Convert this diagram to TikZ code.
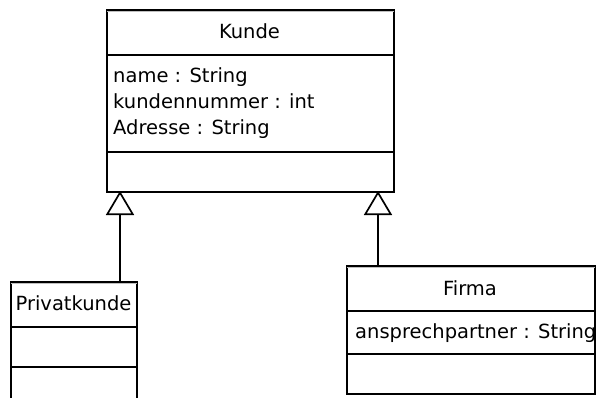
\documentclass[tikz,border=0pt]{standalone}
\usepackage{fontspec}
\setmainfont{DejaVu Sans}
\usetikzlibrary{arrows.meta}
\begin{document}
\begin{tikzpicture}[x=1pt,y=-1pt,
  classbox/.style={draw=black,line width=2pt,inner sep=0pt,anchor=north west},
  divider/.style={line width=1.5pt},
  shade/.style={draw=black!25,line width=1pt},
  lbl/.style={inner sep=0pt,font=\fontsize{19.5}{23}\selectfont},
  inherit/.style={line width=1.7pt,-{Triangle[open,length=24pt,width=28pt,line width=1.7pt]}}]
\useasboundingbox (0,0) rectangle (596,398);
\clip (0,0) rectangle (596,398);
% Kunde
\node[classbox,minimum width=287pt,minimum height=182pt] (kunde) at (106,9) {};
\draw[shade] ([xshift=1pt,yshift=-2.5pt]kunde.north west) -- ([xshift=-1pt,yshift=-2.5pt]kunde.north east);
\draw[divider] (106,55) -- (393,55);
\draw[divider] (106,152) -- (393,152);
\node[lbl,anchor=base] (kt) at (249.5,39) {Kunde};
\node[lbl,anchor=base west] (ka1) at (113,83) {name : String};
\node[lbl,anchor=base west] (ka2) at (113,109) {kundennummer : int};
\node[lbl,anchor=base west] (ka3) at (113,135) {Adresse : String};
% Privatkunde
\node[classbox,minimum width=126pt,minimum height=140pt] (privat) at (10,281) {};
\draw[shade] ([xshift=1pt,yshift=-2.5pt]privat.north west) -- ([xshift=-1pt,yshift=-2.5pt]privat.north east);
\draw[divider] (10,327) -- (136,327);
\draw[divider] (10,367) -- (136,367);
\node[lbl,anchor=base] (pt) at (73.5,310) {Privatkunde};
% Firma
\node[classbox,minimum width=248pt,minimum height=128pt] (firma) at (346,265) {};
\draw[shade] ([xshift=1pt,yshift=-2.5pt]firma.north west) -- ([xshift=-1pt,yshift=-2.5pt]firma.north east);
\draw[divider] (346,311) -- (594,311);
\draw[divider] (346,354) -- (594,354);
\node[lbl,anchor=base] (ft) at (470,295) {Firma};
\node[lbl,anchor=base west] (fa1) at (355,338) {ansprechpartner : String};
% connectors
\coordinate (pstart) at (120,281);
\coordinate (pend) at (120,191);
\coordinate (fstart) at (378,265);
\coordinate (fend) at (378,191);
\draw[inherit] (pstart) -- (pend);
\draw[inherit] (fstart) -- (fend);
\end{tikzpicture}
\end{document}
